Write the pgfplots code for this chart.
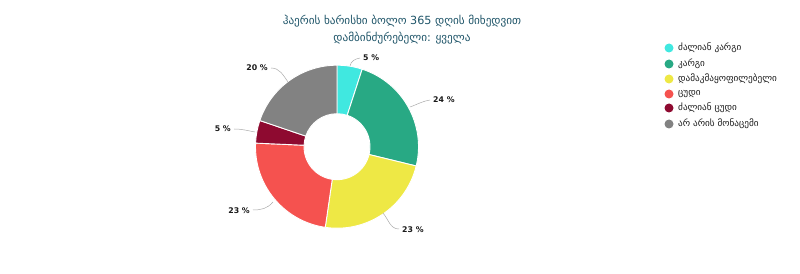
\documentclass[border=0pt]{standalone}
\usepackage{fontspec}
\setmainfont{DejaVu Sans}
\usepackage{pgfplots}
\usepackage{pgfplotstable}
\pgfplotsset{compat=1.18}
\definecolor{cVG}{HTML}{40E8E0}
\definecolor{cG}{HTML}{28A984}
\definecolor{cM}{HTML}{EEE845}
\definecolor{cB}{HTML}{F5524F}
\definecolor{cVB}{HTML}{8E0A30}
\definecolor{cN}{HTML}{828282}
\definecolor{titlec}{HTML}{1E5468}
\definecolor{txt}{HTML}{1A1A1A}
\definecolor{leader}{HTML}{AAAAAA}

\pgfplotstableread{
idx value color
0 5.0 cVG
1 23.8 cG
2 23.5 cM
3 23.4 cB
4 4.5 cVB
5 19.8 cN
}\piedata

\begin{document}
\begin{tikzpicture}
\begin{axis}[
  width=800pt, height=273pt, scale only axis,
  xmin=0, xmax=800, ymin=0, ymax=273,
  hide axis, clip=false,
]
\pgfplotsextra{
  \path (axis cs:0,0) rectangle (axis cs:800,273);
  \def\cum{0}
  \pgfplotsforeachungrouped \i in {0,...,5}{%
    \pgfplotstablegetelem{\i}{value}\of\piedata \let\sv\pgfplotsretval
    \pgfplotstablegetelem{\i}{color}\of\piedata \let\scol\pgfplotsretval
    \pgfmathsetmacro\sa{90-3.6*\cum}
    \pgfmathsetmacro\ea{90-3.6*(\cum+\sv)}
    \fill[\scol, draw=white, line width=0.9pt]
      ([shift={(\sa:81.5pt)}]axis cs:337,126.3)
      arc[start angle=\sa, end angle=\ea, radius=81.5pt]
      -- ([shift={(\ea:33pt)}]axis cs:337,126.3)
      arc[start angle=\ea, end angle=\sa, radius=33pt] -- cycle;
    \pgfmathsetmacro\cum{\cum+\sv}
  }
  % leader lines
  \draw[leader, line width=0.5pt] (axis cs:350,207) to[out=80,in=190] (axis cs:360,215);
  \draw[leader, line width=0.5pt] (axis cs:410,166) to[out=20,in=190] (axis cs:430,173);
  \draw[leader, line width=0.5pt] (axis cs:383,60) to[out=-50,in=180] (axis cs:399,44);
  \draw[leader, line width=0.5pt] (axis cs:273,71) to[out=-130,in=0] (axis cs:253,63);
  \draw[leader, line width=0.5pt] (axis cs:255,141) to[out=170,in=0] (axis cs:234,144);
  \draw[leader, line width=0.5pt] (axis cs:288,191) to[out=125,in=0] (axis cs:271,205);
  % labels
  \tikzset{lbl/.style={font=\fontsize{7.8}{10}\selectfont\bfseries, text=txt, inner sep=1pt}}
  \node[anchor=west, lbl] at (axis cs:362,215) {5 \%};
  \node[anchor=west, lbl] at (axis cs:432,173) {24 \%};
  \node[anchor=west, lbl] at (axis cs:401,43) {23 \%};
  \node[anchor=east, lbl] at (axis cs:251,62) {23 \%};
  \node[anchor=east, lbl] at (axis cs:232,144) {5 \%};
  \node[anchor=east, lbl] at (axis cs:269,205) {20 \%};
  % title
  \node[text=titlec, font=\fontsize{11.2}{17}\selectfont, align=center] at (axis cs:402,243)
    {ჰაერის ხარისხი ბოლო 365 დღის მიხედვით\\დამბინძურებელი: ყველა};
  % legend
  \foreach \yy/\cc/\tt in {225/cVG/ძალიან კარგი, 209/cG/კარგი, 194/cM/დამაკმაყოფილებელი, 179/cB/ცუდი, 165/cVB/ძალიან ცუდი, 149/cN/არ არის მონაცემი}{
    \fill[\cc] (axis cs:669,\yy) circle[radius=4.5pt];
    \node[anchor=west, text=txt, font=\fontsize{9.2}{10}\selectfont, inner sep=0pt] at (axis cs:678,\yy) {\tt};
  }
}
\end{axis}
\end{tikzpicture}
\end{document}
